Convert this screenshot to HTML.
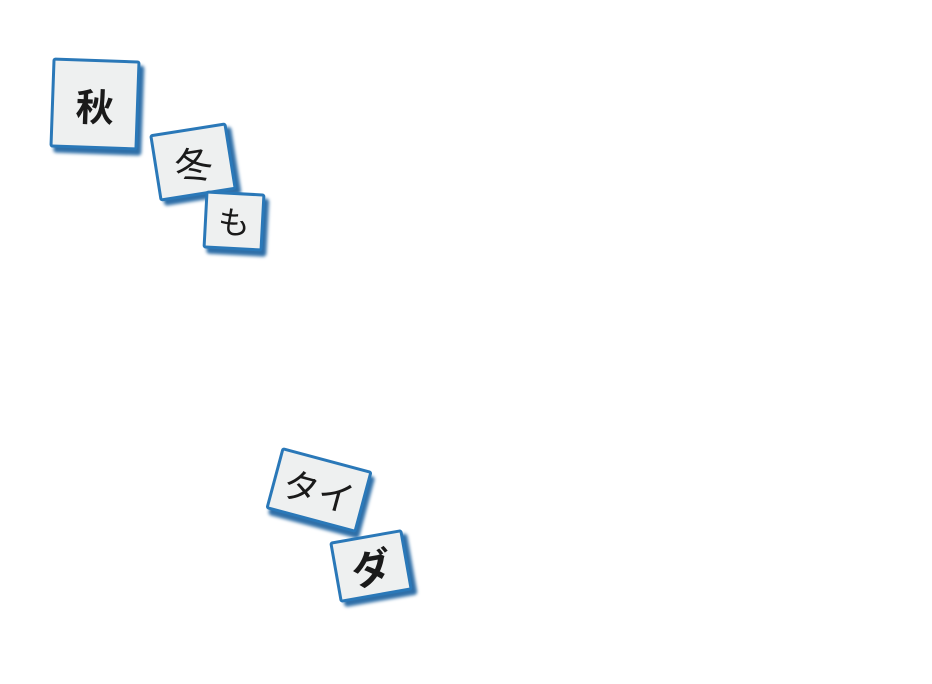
<!DOCTYPE html>
<html><head><meta charset="utf-8"><style>
body{margin:0;width:932px;height:684px;background:#fff;position:relative;overflow:hidden}
.c{position:absolute;box-sizing:border-box;background:#eef0f0;border:3px solid #2a78b8;border-radius:3px;
box-shadow:4px 5px 3px #2f6fa8;display:flex;align-items:center;justify-content:center;
font-family:"Liberation Sans","Noto Sans CJK JP",sans-serif;color:#1a1a1a}
</style></head><body>
<div class="c" style="left:51px;top:59px;width:88px;height:90px;transform:rotate(2deg);font-size:38px;font-weight:bold">秋</div>
<div class="c" style="left:154px;top:128px;width:78px;height:68px;transform:rotate(-9deg);font-size:38px">冬</div>
<div class="c" style="left:204px;top:192px;width:60px;height:58px;transform:rotate(3deg);font-size:32px">も</div>
<div class="c" style="left:272px;top:458px;width:94px;height:64px;transform:rotate(15deg);font-size:36px">タイ</div>
<div class="c" style="left:334px;top:535px;width:74px;height:62px;transform:rotate(-10deg);font-size:40px;font-weight:bold">ダ</div>
</body></html>
